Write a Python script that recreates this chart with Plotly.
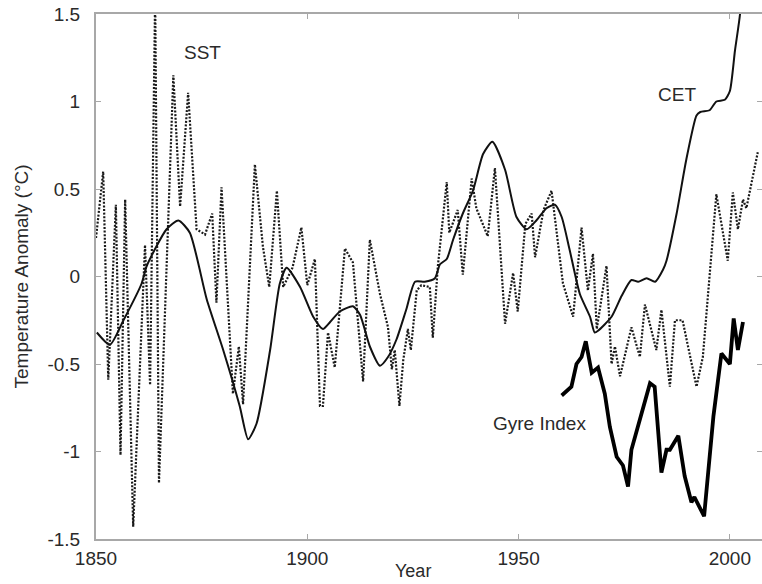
import plotly.graph_objects as go

# ---- data ----
sst_years = [1850.0, 1851.7, 1852.9, 1854.7, 1855.8, 1856.9, 1858.8, 1861.6, 1862.8, 1864.0,
             1864.9, 1868.3, 1869.9, 1871.8, 1873.8, 1875.8, 1877.5, 1878.5, 1879.7, 1882.4,
             1883.8, 1884.8, 1887.6, 1889.5, 1891.0, 1892.8, 1894.3, 1896.5, 1898.6, 1900.0,
             1901.8, 1903.0, 1903.7, 1904.9, 1906.5, 1908.9, 1910.8, 1913.2, 1914.8, 1917.2,
             1919.1, 1920.0, 1920.7, 1921.8, 1922.7, 1923.8, 1924.5, 1925.9, 1927.0, 1929.0,
             1929.7, 1930.9, 1933.0, 1933.6, 1935.6, 1936.8, 1938.9, 1940.0, 1942.7, 1944.4,
             1946.8, 1948.7, 1949.8, 1951.6, 1953.1, 1953.9, 1955.9, 1957.8, 1960.5, 1962.9,
             1964.9, 1966.4, 1967.6, 1968.5, 1970.8, 1972.0, 1972.8, 1974.0, 1976.7, 1978.7,
             1979.9, 1982.6, 1983.8, 1985.8, 1987.0, 1988.8, 1992.1, 1993.6, 1996.8, 1999.5,
             2000.7, 2001.9, 2003.1, 2003.9, 2006.6]
sst_vals = [0.22, 0.60, -0.59, 0.41, -1.02, 0.44, -1.43, 0.18, -0.62, 1.60,
            -1.18, 1.15, 0.40, 1.05, 0.27, 0.24, 0.36, -0.15, 0.51, -0.67,
            -0.40, -0.73, 0.64, 0.17, -0.06, 0.49, -0.06, 0.05, 0.28, -0.05,
            0.10, -0.74, -0.74, -0.32, -0.52, 0.16, 0.08, -0.60, 0.21, -0.10,
            -0.29, -0.53, -0.42, -0.74, -0.48, -0.30, -0.42, -0.08, -0.05, -0.06,
            -0.35, 0.06, 0.54, 0.25, 0.38, 0.01, 0.56, 0.39, 0.23, 0.62,
            -0.27, 0.02, -0.20, 0.30, 0.36, 0.11, 0.38, 0.49, -0.04, -0.23,
            0.28, -0.08, 0.13, -0.30, 0.06, -0.50, -0.40, -0.57, -0.29, -0.46,
            -0.16, -0.42, -0.19, -0.63, -0.25, -0.25, -0.63, -0.46, 0.47, 0.09,
            0.48, 0.27, 0.44, 0.39, 0.71]

cet_years = [1850.2, 1853.3, 1856.5, 1860.8, 1862.0, 1866.7, 1869.5, 1872.2, 1876.2, 1880.1,
             1884.0, 1886.0, 1888.0, 1891.2, 1893.5, 1895.1, 1898.3, 1901.4, 1903.7, 1905.4,
             1907.7, 1910.8, 1912.5, 1914.8, 1917.2, 1919.1, 1921.1, 1923.4, 1925.5, 1927.8,
             1930.2, 1931.4, 1933.0, 1934.5, 1936.8, 1939.2, 1941.6, 1943.8, 1946.8, 1949.5,
             1951.9, 1954.2, 1956.6, 1958.6, 1960.2, 1962.1, 1964.5, 1966.9, 1968.0, 1968.8,
             1972.0, 1974.4, 1976.7, 1978.3, 1980.3, 1982.3, 1984.2, 1985.0, 1987.4, 1989.7,
             1992.1, 1993.0, 1995.2, 1996.8, 1998.8, 2000.0, 2001.2, 2002.4, 2003.0]
cet_vals = [-0.32, -0.39, -0.25, -0.04, 0.06, 0.27, 0.32, 0.25, -0.13, -0.42,
            -0.74, -0.93, -0.84, -0.42, -0.04, 0.05, -0.06, -0.23, -0.30, -0.26,
            -0.20, -0.17, -0.22, -0.40, -0.51, -0.46, -0.36, -0.19, -0.03, -0.03,
            -0.01, 0.07, 0.10, 0.21, 0.36, 0.49, 0.70, 0.77, 0.61, 0.34,
            0.27, 0.32, 0.39, 0.41, 0.34, 0.15, -0.10, -0.23, -0.32, -0.31,
            -0.23, -0.11, -0.02, -0.03, -0.01, -0.03, 0.04, 0.09, 0.36, 0.67,
            0.92, 0.94, 0.95, 1.00, 1.01, 1.06, 1.29, 1.50, 1.75]

gyre_years = [1960.2, 1962.5, 1963.7, 1964.9, 1965.9, 1967.3, 1968.8, 1970.4, 1971.6, 1973.2,
              1974.7, 1975.9, 1976.7, 1981.1, 1982.2, 1983.8, 1985.0, 1985.8, 1987.8, 1989.3,
              1990.9, 1991.6, 1993.9, 1996.1, 1998.0, 2000.0, 2000.9, 2001.9, 2003.1]
gyre_vals = [-0.68, -0.63, -0.50, -0.46, -0.37, -0.55, -0.52, -0.67, -0.86, -1.03,
             -1.08, -1.20, -0.99, -0.61, -0.63, -1.12, -0.99, -0.99, -0.91, -1.14,
             -1.29, -1.26, -1.37, -0.80, -0.44, -0.50, -0.24, -0.42, -0.26]

y_ticks = [-1.5, -1, -0.5, 0, 0.5, 1, 1.5]
y_tick_text = ["-1.5", "-1", "-0.5", "0", "0.5", "1", "1.5"]
x_ticks = [1850, 1900, 1950, 2000]
x_tick_text = ["1850", "1900", "1950", "2000"]

series_labels = [("SST", 1875.3, 1.28), ("CET", 1987.4, 1.04), ("Gyre Index", 1955.0, -0.84)]

X_RANGE = [1850, 2007.6]
Y_RANGE = [-1.5, 1.5]

FONT = "Liberation Sans, Arial, sans-serif"
TXT = "#2a2a2a"
AX = "#a8a8a8"

fig = go.Figure()
fig.add_trace(go.Scatter(x=sst_years, y=sst_vals, mode="lines",
                         line=dict(color="#1a1a1a", width=2.2, dash="2px,1.6px"),
                         showlegend=False, hoverinfo="skip"))
fig.add_trace(go.Scatter(x=cet_years, y=cet_vals, mode="lines",
                         line=dict(color="#111111", width=2, shape="spline", smoothing=0.6),
                         showlegend=False, hoverinfo="skip"))
fig.add_trace(go.Scatter(x=gyre_years, y=gyre_vals, mode="lines",
                         line=dict(color="#000000", width=3.8),
                         showlegend=False, hoverinfo="skip"))
# helper trace for right-side tick axis
fig.add_trace(go.Scatter(x=[None], y=[None], yaxis="y2", showlegend=False, hoverinfo="skip"))

for txt, xx, yy in series_labels:
    fig.add_annotation(x=xx, y=yy, text=txt, showarrow=False,
                       font=dict(family=FONT, size=19, color=TXT))

fig.add_annotation(xref="paper", yref="paper", x=(21 - 96) / 666, y=0.5,
                   text="Temperature Anomaly (°C)", textangle=-90, showarrow=False,
                   xanchor="center", yanchor="middle",
                   font=dict(family=FONT, size=19, color=TXT))
fig.add_annotation(xref="paper", yref="paper", x=(413 - 96) / 666, y=(539 - 571) / 525,
                   text="Year", showarrow=False, xanchor="center", yanchor="middle",
                   borderpad=0, font=dict(family=FONT, size=18, color=TXT))

fig.update_layout(
    width=762, height=584,
    margin=dict(l=96, r=0, t=14, b=45),
    paper_bgcolor="white", plot_bgcolor="white",
    font=dict(family=FONT, size=19, color=TXT),
    xaxis=dict(range=X_RANGE, tickvals=x_ticks, ticktext=x_tick_text,
               showgrid=False, zeroline=False, showline=True, linecolor=AX, linewidth=2,
               ticks="inside", ticklen=5, tickwidth=1, tickcolor=AX, mirror="ticks",
               ticklabelstandoff=1, tickfont=dict(family=FONT, size=19, color=TXT)),
    yaxis=dict(range=Y_RANGE, tickvals=y_ticks, ticktext=y_tick_text,
               showgrid=False, zeroline=False, showline=True, linecolor=AX, linewidth=2,
               ticks="inside", ticklen=5, tickwidth=1, tickcolor=AX,
               ticklabelstandoff=10, tickfont=dict(family=FONT, size=19, color=TXT)),
    yaxis2=dict(range=Y_RANGE, tickvals=y_ticks, overlaying="y", side="right",
                showgrid=False, zeroline=False, showline=False, showticklabels=False,
                ticks="inside", ticklen=5, tickwidth=1, tickcolor=AX),
)

fig.write_html("out.html")
